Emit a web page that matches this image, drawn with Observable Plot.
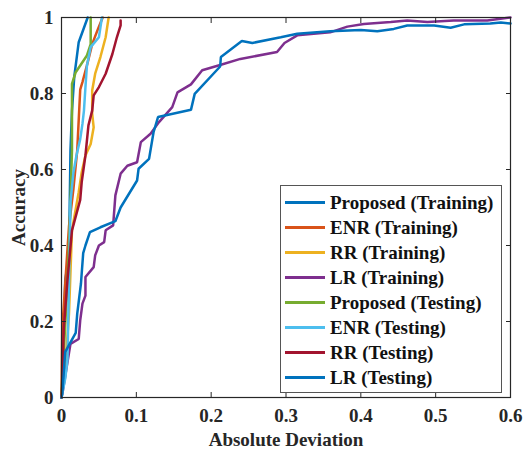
<!DOCTYPE html>
<html>
<head>
<meta charset="utf-8">
<script src="https://cdn.jsdelivr.net/npm/d3@7"></script>
<script src="https://cdn.jsdelivr.net/npm/@observablehq/plot@0.6"></script>
<style>
  html, body { margin: 0; padding: 0; background: #fff; }
  #wrap { position: relative; width: 523px; height: 452px; font-family: "Liberation Serif", "Times New Roman", serif; }
  #legend { position: absolute; left: 280px; top: 185px; width: 222px; height: 208px; border: 1px solid #555; background: #fff; box-sizing: border-box; padding-top: 4px; }
  .row { display: flex; align-items: center; height: 25px; font-weight: bold; font-size: 19px; color: #111; }
  .sw { width: 40px; height: 3px; margin-left: 4px; margin-right: 5px; }
</style>
</head>
<body>
<div id="wrap"></div>
<script>
const seriesNames = ["Proposed (Training)", "ENR (Training)", "RR (Training)", "LR (Training)",
  "Proposed (Testing)", "ENR (Testing)", "RR (Testing)", "LR (Testing)"];
const seriesColors = ["#0072BD", "#D95319", "#EDB120", "#7E2F8E", "#77AC30", "#4DBEEE", "#A2142F", "#0072BD"];

const proposedTrainX = [0, 0.002, 0.005, 0.010, 0.012, 0.014, 0.017, 0.023, 0.035];
const proposedTrainY = [0, 0.10, 0.31, 0.37, 0.65, 0.755, 0.843, 0.935, 1.0];

const enrTrainX = [0, 0.001, 0.005, 0.010, 0.016, 0.021, 0.023, 0.025, 0.028, 0.034, 0.041, 0.048, 0.055];
const enrTrainY = [0, 0.18, 0.30, 0.45, 0.55, 0.65, 0.73, 0.81, 0.83, 0.874, 0.93, 0.966, 1.0];

const rrTrainX = [0, 0.005, 0.010, 0.014, 0.023, 0.027, 0.032, 0.039, 0.043, 0.041, 0.041, 0.045, 0.052, 0.059, 0.063];
const rrTrainY = [0, 0.08, 0.22, 0.44, 0.54, 0.593, 0.637, 0.667, 0.711, 0.747, 0.808, 0.852, 0.896, 0.948, 1.0];

const lrTrainX = [0, 0.002, 0.012, 0.023, 0.025, 0.028, 0.032, 0.032, 0.043, 0.045, 0.050, 0.057, 0.059, 0.069, 0.072, 0.079, 0.088, 0.101, 0.106, 0.119, 0.130, 0.148, 0.155, 0.173, 0.188, 0.212, 0.239, 0.288, 0.298, 0.315, 0.359, 0.382, 0.404, 0.440, 0.462, 0.489, 0.524, 0.569, 0.600];
const lrTrainY = [0, 0.02, 0.141, 0.154, 0.203, 0.247, 0.268, 0.317, 0.343, 0.374, 0.400, 0.409, 0.440, 0.453, 0.532, 0.589, 0.610, 0.619, 0.672, 0.694, 0.724, 0.764, 0.803, 0.824, 0.861, 0.875, 0.891, 0.909, 0.933, 0.953, 0.961, 0.976, 0.983, 0.988, 0.992, 0.988, 0.992, 0.992, 1.0];

const proposedTestX = [0, 0.003, 0.008, 0.011, 0.014, 0.014, 0.019, 0.034, 0.039, 0.039];
const proposedTestY = [0, 0.12, 0.30, 0.45, 0.65, 0.825, 0.856, 0.90, 0.93, 1.0];

const enrTestX = [0, 0.005, 0.008, 0.010, 0.012, 0.016, 0.020, 0.025, 0.028, 0.030, 0.032, 0.034, 0.039, 0.050, 0.054];
const enrTestY = [0, 0.05, 0.10, 0.30, 0.514, 0.593, 0.637, 0.68, 0.72, 0.755, 0.817, 0.874, 0.922, 0.948, 1.0];

const rrTestX = [0, 0.001, 0.003, 0.008, 0.014, 0.025, 0.027, 0.032, 0.036, 0.041, 0.043, 0.050, 0.059, 0.068, 0.074, 0.079, 0.079];
const rrTestY = [0, 0.03, 0.18, 0.31, 0.44, 0.52, 0.567, 0.637, 0.716, 0.755, 0.795, 0.817, 0.852, 0.904, 0.948, 0.979, 0.992];

const lrTestX = [0, 0.001, 0.005, 0.019, 0.021, 0.026, 0.029, 0.032, 0.038, 0.052, 0.072, 0.079, 0.101, 0.103, 0.117, 0.123, 0.129, 0.173, 0.178, 0.212, 0.213, 0.241, 0.255, 0.293, 0.315, 0.359, 0.400, 0.422, 0.444, 0.462, 0.498, 0.520, 0.538, 0.573, 0.587, 0.600];
const lrTestY = [0, 0.01, 0.12, 0.17, 0.22, 0.30, 0.38, 0.40, 0.435, 0.448, 0.464, 0.500, 0.571, 0.602, 0.628, 0.698, 0.738, 0.757, 0.799, 0.871, 0.896, 0.938, 0.933, 0.948, 0.957, 0.964, 0.967, 0.964, 0.970, 0.979, 0.979, 0.973, 0.982, 0.984, 0.987, 0.984];

const xTicks = [0, 0.1, 0.2, 0.3, 0.4, 0.5, 0.6];
const xTickLabels = ["0", "0.1", "0.2", "0.3", "0.4", "0.5", "0.6"];
const yTicks = [0, 0.2, 0.4, 0.6, 0.8, 1];
const yTickLabels = ["0", "0.2", "0.4", "0.6", "0.8", "1"];

const allX = [proposedTrainX, enrTrainX, rrTrainX, lrTrainX, proposedTestX, enrTestX, rrTestX, lrTestX];
const allY = [proposedTrainY, enrTrainY, rrTrainY, lrTrainY, proposedTestY, enrTestY, rrTestY, lrTestY];

const rows = [];
allX.forEach((xs, i) => xs.forEach((x, j) => rows.push({series: seriesNames[i], idx: i, x, y: allY[i][j]})));

const axisColor = "#262626";
const fam = "'Liberation Serif', 'Times New Roman', serif";

const chart = Plot.plot({
  width: 523,
  height: 452,
  marginLeft: 61,
  marginRight: 13,
  marginTop: 17,
  marginBottom: 55,
  style: {fontFamily: fam, fontWeight: "bold", fontSize: "19px", color: axisColor, background: "white", overflow: "visible"},
  x: {domain: [0, 0.6]},
  y: {domain: [0, 1]},
  marks: [
    ...seriesNames.map((name, i) => Plot.line(rows.filter(r => r.idx === i), {x: "x", y: "y", stroke: seriesColors[i], strokeWidth: 2.5, strokeLinejoin: "miter"})),
    Plot.frame({stroke: axisColor, strokeWidth: 1.2}),
    Plot.axisX({ticks: xTicks, tickFormat: (d, i) => xTickLabels[i], tickSize: 0, tickPadding: 11, fontSize: 19, fontWeight: "bold", label: "Absolute Deviation", labelAnchor: "center", labelArrow: "none", labelOffset: 48}),
    Plot.axisX({ticks: xTicks, anchor: "bottom", tickSize: -5, text: null, label: null, stroke: axisColor}),
    Plot.axisX({ticks: xTicks, anchor: "top", tickSize: -5, text: null, label: null, stroke: axisColor}),
    Plot.axisY({ticks: yTicks, tickFormat: (d, i) => yTickLabels[i], tickSize: 0, tickPadding: 8, fontSize: 19, fontWeight: "bold", label: "Accuracy", labelAnchor: "center", labelArrow: "none", labelOffset: 50}),
    Plot.axisY({ticks: yTicks, anchor: "left", tickSize: -5, text: null, label: null, stroke: axisColor}),
    Plot.axisY({ticks: yTicks, anchor: "right", tickSize: -5, text: null, label: null, stroke: axisColor})
  ]
});

const wrap = document.getElementById("wrap");
wrap.appendChild(chart);

const legend = document.createElement("div");
legend.id = "legend";
seriesNames.forEach((name, i) => {
  const row = document.createElement("div");
  row.className = "row";
  const sw = document.createElement("span");
  sw.className = "sw";
  sw.style.background = seriesColors[i];
  const t = document.createElement("span");
  t.textContent = name;
  row.appendChild(sw);
  row.appendChild(t);
  legend.appendChild(row);
});
wrap.appendChild(legend);
</script>
</body>
</html>
